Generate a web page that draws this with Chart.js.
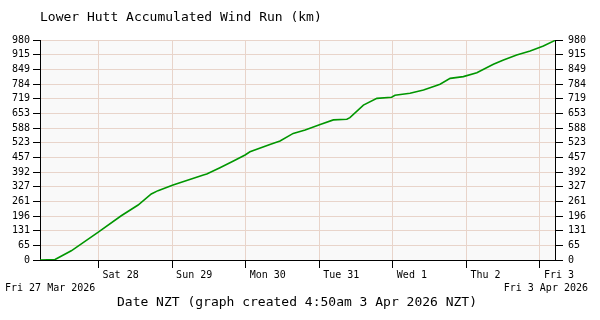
<!DOCTYPE html>
<html><head><meta charset="utf-8">
<script src="https://cdn.jsdelivr.net/npm/chart.js@4/dist/chart.umd.min.js"></script>
<style>html,body{margin:0;padding:0;background:#fff}#wrap{width:600px;height:320px}</style>
</head><body><div id="wrap"><canvas id="c" width="600" height="320"></canvas></div>
<script>
const chartTitle = 'Lower Hutt Accumulated Wind Run (km)';
const startLabel = 'Fri 27 Mar 2026';
const endLabel = 'Fri 3 Apr 2026';
const xTitle = 'Date NZT (graph created 4:50am 3 Apr 2026 NZT)';
// hours since start of the 7-day window
const hours = [0, 4.9, 10.2, 18.9, 26.5, 32.0, 36.3, 38.5, 43.4, 53.3, 54.4, 58.7, 63.1, 66.9, 68.5, 75.0, 78.3, 82.6, 86.5, 91.4, 95.7, 100.1, 101.1, 105.5, 109.9, 114.7, 115.8, 120.7, 125.1, 128.9, 130.5, 133.8, 138.1, 142.5, 147.9, 151.2, 155.5, 159.9, 164.2, 168];
const windRun = [0, 2, 41, 123, 197, 245, 294, 309, 334, 379, 383, 411, 441, 468, 482, 515, 530, 564, 579, 604, 624, 627, 634, 690, 720, 725, 734, 743, 757, 775, 783, 809, 817, 834, 872, 891, 913, 931, 953, 978];
const dayTickHours = [19.1, 43.1, 67.1, 91.1, 115.1, 139.1, 163.1];
const dayLabels = ['Sat 28', 'Sun 29', 'Mon 30', 'Tue 31', 'Wed 1', 'Thu 2', 'Fri 3'];
const yTickLabels = [0, 65, 131, 196, 261, 327, 392, 457, 523, 588, 653, 719, 784, 849, 915, 980];

const MONO = '"DejaVu Sans Mono", "Liberation Mono", monospace';
const gridCol = '#e8d4ca';

const bgPlugin = {
  id: 'bg',
  beforeDraw(chart) {
    const {ctx, chartArea: a} = chart;
    ctx.save();
    ctx.fillStyle = '#f9f9f9';
    ctx.fillRect(a.left, a.top, a.right - a.left, a.bottom - a.top);
    ctx.restore();
  },
  afterDraw(chart) {
    const ctx = chart.ctx;
    ctx.save();
    ctx.fillStyle = '#000';
    ctx.textBaseline = 'middle';
    ctx.font = '13px ' + MONO;
    ctx.textAlign = 'left';
    ctx.fillText(chartTitle, 40, 18);
    ctx.font = '10px ' + MONO;
    ctx.fillText(startLabel, 5, 288);
    ctx.textAlign = 'right';
    ctx.fillText(endLabel, 588, 288);
    ctx.font = '13px ' + MONO;
    ctx.textAlign = 'center';
    ctx.fillText(xTitle, 297, 303);
    ctx.restore();
  }
};

new Chart(document.getElementById('c'), {
  type: 'line',
  data: {
    datasets: [{
      data: hours.map((h, i) => ({x: h, y: windRun[i]})),
      borderColor: '#009600',
      borderWidth: 1.6,
      pointRadius: 0,
      tension: 0,
      fill: false
    }]
  },
  options: {
    responsive: false,
    animation: false,
    devicePixelRatio: 1,
    layout: {padding: {top: 40, left: 0, right: 0, bottom: 0}},
    plugins: {legend: {display: false}, tooltip: {enabled: false}, title: {display: false}},
    scales: {
      x: {
        type: 'linear', position: 'bottom', min: 0, max: 168,
        afterBuildTicks: s => { s.ticks = dayTickHours.map(v => ({value: v})); },
        afterFit: s => { s.height = 60; },
        ticks: {
          callback: (v, i) => dayLabels[i], autoSkip: false, maxRotation: 0,
          align: 'start', labelOffset: 4, padding: 1,
          color: '#000', font: {family: MONO, size: 10}
        },
        grid: {color: gridCol, tickColor: '#000', tickLength: 8, lineWidth: 1},
        border: {color: '#000', width: 1}
      },
      y: {
        position: 'left', min: 0, max: 980,
        afterBuildTicks: s => { s.ticks = yTickLabels.map(v => ({value: v})); },
        afterFit: s => { s.width = 40; },
        ticks: {autoSkip: false, padding: 3, color: '#000', font: {family: MONO, size: 10}},
        grid: {color: gridCol, tickColor: '#000', tickLength: 7, lineWidth: 1},
        border: {color: '#000', width: 1}
      },
      y2: {
        position: 'right', min: 0, max: 980,
        afterBuildTicks: s => { s.ticks = yTickLabels.map(v => ({value: v})); },
        afterFit: s => { s.width = 45; },
        ticks: {autoSkip: false, padding: 5, color: '#000', font: {family: MONO, size: 10}},
        grid: {drawOnChartArea: false, tickColor: '#000', tickLength: 8},
        border: {color: '#000', width: 1}
      }
    }
  },
  plugins: [bgPlugin]
});
</script>
</body></html>
